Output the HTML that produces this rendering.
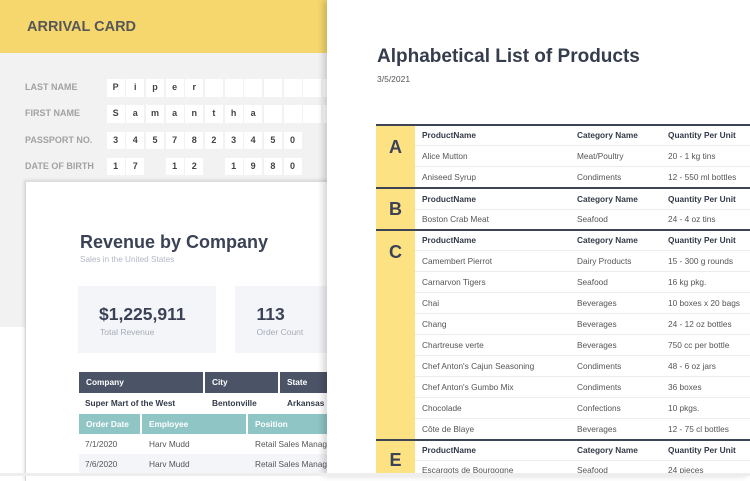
<!DOCTYPE html>
<html><head><meta charset="utf-8">
<style>
*{margin:0;padding:0;box-sizing:border-box}
html,body{width:750px;height:476px;overflow:hidden;background:#fff;font-family:"Liberation Sans",Arial,sans-serif}
.abs{position:absolute}
#arrival{position:absolute;left:0;top:0;width:340px;height:327px;background:#f2f2f2;z-index:1;overflow:hidden}
#arrival .hdr{position:absolute;left:0;top:0;width:340px;height:53px;background:#f5d76e}
#arrival .ttl{position:absolute;left:27px;top:20px;font-size:14.5px;line-height:14.5px;font-weight:bold;color:#575757;white-space:nowrap}
.lbl{position:absolute;left:25px;font-size:9px;font-weight:bold;color:#a2a2a2;height:17.5px;line-height:17.5px;white-space:nowrap}
.bx{position:absolute;width:18px;height:17.5px;background:#fff;font-size:9px;font-weight:bold;color:#444;text-align:center;line-height:17.5px}
#rev{position:absolute;left:25px;top:181px;width:340px;height:300px;background:#fff;z-index:2;border-left:1px solid #d6d6d6;border-top:1px solid #dcdcdc;box-shadow:-1px -1px 3px rgba(0,0,0,.12);overflow:hidden}
#rev .t{position:absolute;white-space:nowrap}
#right{position:absolute;left:327px;top:0;width:423px;height:476px;background:#fff;z-index:3;box-shadow:-4px 0 6px rgba(0,0,0,.16);overflow:hidden}
.row{position:absolute;left:88px;width:340px;height:21px;line-height:21px;font-size:8.3px;color:#555;border-bottom:1px solid #ececec;white-space:nowrap}
.row.h{font-weight:bold;color:#333a48}
.row span{position:absolute;top:0}
.c1{left:7px}.c2{left:162px}.c3{left:253px}
.bd{position:absolute;left:49px;width:380px;height:2px;background:#3d4455}
.let{position:absolute;left:49px;width:39px;text-align:center;font-size:18px;line-height:18px;font-weight:bold;color:#3b4256}
#strip{position:absolute;left:0;top:473px;width:750px;height:3px;background:#eeeeee;z-index:5}
</style></head><body>

<div id="arrival">
  <div class="hdr"></div>
  <div class="ttl">ARRIVAL CARD</div>
  <div class="lbl" style="top:79.3px">LAST NAME</div>
  <div class="lbl" style="top:105.3px">FIRST NAME</div>
  <div class="lbl" style="top:131.7px">PASSPORT NO.</div>
  <div class="lbl" style="top:157.7px">DATE OF BIRTH</div>

  <div class="bx" style="left:106.7px;top:79.3px">P</div>
  <div class="bx" style="left:126.3px;top:79.3px">i</div>
  <div class="bx" style="left:146px;top:79.3px">p</div>
  <div class="bx" style="left:165.6px;top:79.3px">e</div>
  <div class="bx" style="left:185.3px;top:79.3px">r</div>
  <div class="bx" style="left:204.9px;top:79.3px"></div>
  <div class="bx" style="left:224.6px;top:79.3px"></div>
  <div class="bx" style="left:244.2px;top:79.3px"></div>
  <div class="bx" style="left:263.9px;top:79.3px"></div>
  <div class="bx" style="left:283.5px;top:79.3px"></div>
  <div class="bx" style="left:303.2px;top:79.3px"></div>
  <div class="bx" style="left:322.8px;top:79.3px"></div>

  <div class="bx" style="left:106.7px;top:105.3px">S</div>
  <div class="bx" style="left:126.3px;top:105.3px">a</div>
  <div class="bx" style="left:146px;top:105.3px">m</div>
  <div class="bx" style="left:165.6px;top:105.3px">a</div>
  <div class="bx" style="left:185.3px;top:105.3px">n</div>
  <div class="bx" style="left:204.9px;top:105.3px">t</div>
  <div class="bx" style="left:224.6px;top:105.3px">h</div>
  <div class="bx" style="left:244.2px;top:105.3px">a</div>
  <div class="bx" style="left:263.9px;top:105.3px"></div>
  <div class="bx" style="left:283.5px;top:105.3px"></div>
  <div class="bx" style="left:303.2px;top:105.3px"></div>
  <div class="bx" style="left:322.8px;top:105.3px"></div>

  <div class="bx" style="left:106.7px;top:131.7px">3</div>
  <div class="bx" style="left:126.3px;top:131.7px">4</div>
  <div class="bx" style="left:146px;top:131.7px">5</div>
  <div class="bx" style="left:165.6px;top:131.7px">7</div>
  <div class="bx" style="left:185.3px;top:131.7px">8</div>
  <div class="bx" style="left:204.9px;top:131.7px">2</div>
  <div class="bx" style="left:224.6px;top:131.7px">3</div>
  <div class="bx" style="left:244.2px;top:131.7px">4</div>
  <div class="bx" style="left:263.9px;top:131.7px">5</div>
  <div class="bx" style="left:283.5px;top:131.7px">0</div>

  <div class="bx" style="left:106.7px;top:157.7px">1</div>
  <div class="bx" style="left:126.3px;top:157.7px">7</div>
  <div class="bx" style="left:165.6px;top:157.7px">1</div>
  <div class="bx" style="left:185.3px;top:157.7px">2</div>
  <div class="bx" style="left:224.6px;top:157.7px">1</div>
  <div class="bx" style="left:244.2px;top:157.7px">9</div>
  <div class="bx" style="left:263.9px;top:157.7px">8</div>
  <div class="bx" style="left:283.5px;top:157.7px">0</div>
</div>

<div id="rev">
  <div class="t" style="left:54px;top:51px;font-size:18px;line-height:18px;font-weight:bold;color:#3b4256">Revenue by Company</div>
  <div class="t" style="left:54px;top:73px;font-size:8.2px;line-height:10px;color:#b3b7c3">Sales in the United States</div>

  <div class="abs" style="left:52px;top:104px;width:138px;height:67px;background:#f4f5f8"></div>
  <div class="abs" style="left:209px;top:104px;width:140px;height:67px;background:#f4f5f8"></div>
  <div class="t" style="left:73px;top:123.5px;font-size:17.5px;line-height:17.5px;font-weight:bold;color:#3b4256">$1,225,911</div>
  <div class="t" style="left:74px;top:145px;font-size:8.5px;line-height:10px;color:#a7abb8">Total Revenue</div>
  <div class="t" style="left:230.5px;top:123.5px;font-size:17.5px;line-height:17.5px;font-weight:bold;color:#3b4256">113</div>
  <div class="t" style="left:230.5px;top:145px;font-size:8.5px;line-height:10px;color:#a7abb8">Order Count</div>

  <div class="abs" style="left:53px;top:190px;width:124px;height:20.5px;background:#4b5366"></div>
  <div class="abs" style="left:179px;top:190px;width:73px;height:20.5px;background:#4b5366"></div>
  <div class="abs" style="left:254px;top:190px;width:100px;height:20.5px;background:#4b5366"></div>
  <div class="t" style="left:60px;top:190px;line-height:20.5px;font-size:8.3px;font-weight:bold;color:#fff">Company</div>
  <div class="t" style="left:186px;top:190px;line-height:20.5px;font-size:8.3px;font-weight:bold;color:#fff">City</div>
  <div class="t" style="left:261px;top:190px;line-height:20.5px;font-size:8.3px;font-weight:bold;color:#fff">State</div>

  <div class="t" style="left:59px;top:210.5px;line-height:20.5px;font-size:8.3px;font-weight:bold;color:#333a48">Super Mart of the West</div>
  <div class="t" style="left:186px;top:210.5px;line-height:20.5px;font-size:8.3px;font-weight:bold;color:#333a48">Bentonville</div>
  <div class="t" style="left:261px;top:210.5px;line-height:20.5px;font-size:8.3px;font-weight:bold;color:#333a48">Arkansas</div>

  <div class="abs" style="left:53px;top:231.5px;width:61px;height:20px;background:#8fc5c5"></div>
  <div class="abs" style="left:116px;top:231.5px;width:104px;height:20px;background:#8fc5c5"></div>
  <div class="abs" style="left:222px;top:231.5px;width:130px;height:20px;background:#8fc5c5"></div>
  <div class="t" style="left:60px;top:231.5px;line-height:20px;font-size:8.3px;font-weight:bold;color:#fff">Order Date</div>
  <div class="t" style="left:123px;top:231.5px;line-height:20px;font-size:8.3px;font-weight:bold;color:#fff">Employee</div>
  <div class="t" style="left:229px;top:231.5px;line-height:20px;font-size:8.3px;font-weight:bold;color:#fff">Position</div>

  <div class="t" style="left:59px;top:251.5px;line-height:20px;font-size:8.3px;color:#555">7/1/2020</div>
  <div class="t" style="left:123px;top:251.5px;line-height:20px;font-size:8.3px;color:#555">Harv Mudd</div>
  <div class="t" style="left:229px;top:251.5px;line-height:20px;font-size:8.3px;color:#555">Retail Sales Manager</div>
  <div class="abs" style="left:53px;top:271.5px;width:300px;height:20px;background:#f4f5f8"></div>
  <div class="t" style="left:59px;top:271.5px;line-height:20px;font-size:8.3px;color:#555">7/6/2020</div>
  <div class="t" style="left:123px;top:271.5px;line-height:20px;font-size:8.3px;color:#555">Harv Mudd</div>
  <div class="t" style="left:229px;top:271.5px;line-height:20px;font-size:8.3px;color:#555">Retail Sales Manager</div>
</div>

<div id="right">
  <div class="abs" style="left:50px;top:47.2px;font-size:19px;line-height:19px;font-weight:bold;color:#353c4c;white-space:nowrap">Alphabetical List of Products</div>
  <div class="abs" style="left:50px;top:74px;font-size:8.5px;line-height:10px;color:#555">3/5/2021</div>

  <div class="abs" style="left:49px;top:124px;width:39px;height:360px;background:#fde283"></div>

  <div class="bd" style="top:124px"></div>
  <div class="let" style="top:137.5px">A</div>
  <div class="row h" style="top:125.2px"><span class="c1">ProductName</span><span class="c2">Category Name</span><span class="c3">Quantity Per Unit</span></div>
  <div class="row" style="top:145.8px"><span class="c1">Alice Mutton</span><span class="c2">Meat/Poultry</span><span class="c3">20 - 1 kg tins</span></div>
  <div class="row" style="top:166.5px"><span class="c1">Aniseed Syrup</span><span class="c2">Condiments</span><span class="c3">12 - 550 ml bottles</span></div>

  <div class="bd" style="top:186.5px"></div>
  <div class="let" style="top:199.5px">B</div>
  <div class="row h" style="top:188.5px"><span class="c1">ProductName</span><span class="c2">Category Name</span><span class="c3">Quantity Per Unit</span></div>
  <div class="row" style="top:209.2px;border-bottom:none"><span class="c1">Boston Crab Meat</span><span class="c2">Seafood</span><span class="c3">24 - 4 oz tins</span></div>

  <div class="bd" style="top:229px"></div>
  <div class="let" style="top:242.5px">C</div>
  <div class="row h" style="top:229.8px"><span class="c1">ProductName</span><span class="c2">Category Name</span><span class="c3">Quantity Per Unit</span></div>
  <div class="row" style="top:250.5px"><span class="c1">Camembert Pierrot</span><span class="c2">Dairy Products</span><span class="c3">15 - 300 g rounds</span></div>
  <div class="row" style="top:271.5px"><span class="c1">Carnarvon Tigers</span><span class="c2">Seafood</span><span class="c3">16 kg pkg.</span></div>
  <div class="row" style="top:292.5px"><span class="c1">Chai</span><span class="c2">Beverages</span><span class="c3">10 boxes x 20 bags</span></div>
  <div class="row" style="top:313.5px"><span class="c1">Chang</span><span class="c2">Beverages</span><span class="c3">24 - 12 oz bottles</span></div>
  <div class="row" style="top:334.5px"><span class="c1">Chartreuse verte</span><span class="c2">Beverages</span><span class="c3">750 cc per bottle</span></div>
  <div class="row" style="top:355.5px"><span class="c1">Chef Anton's Cajun Seasoning</span><span class="c2">Condiments</span><span class="c3">48 - 6 oz jars</span></div>
  <div class="row" style="top:376.5px"><span class="c1">Chef Anton's Gumbo Mix</span><span class="c2">Condiments</span><span class="c3">36 boxes</span></div>
  <div class="row" style="top:397.5px"><span class="c1">Chocolade</span><span class="c2">Confections</span><span class="c3">10 pkgs.</span></div>
  <div class="row" style="top:418.5px;border-bottom:none"><span class="c1">Côte de Blaye</span><span class="c2">Beverages</span><span class="c3">12 - 75 cl bottles</span></div>

  <div class="bd" style="top:439px"></div>
  <div class="let" style="top:450.5px">E</div>
  <div class="row h" style="top:439.5px"><span class="c1">ProductName</span><span class="c2">Category Name</span><span class="c3">Quantity Per Unit</span></div>
  <div class="row" style="top:460.2px"><span class="c1">Escargots de Bourgogne</span><span class="c2">Seafood</span><span class="c3">24 pieces</span></div>
</div>

<div id="strip"></div>
</body></html>
